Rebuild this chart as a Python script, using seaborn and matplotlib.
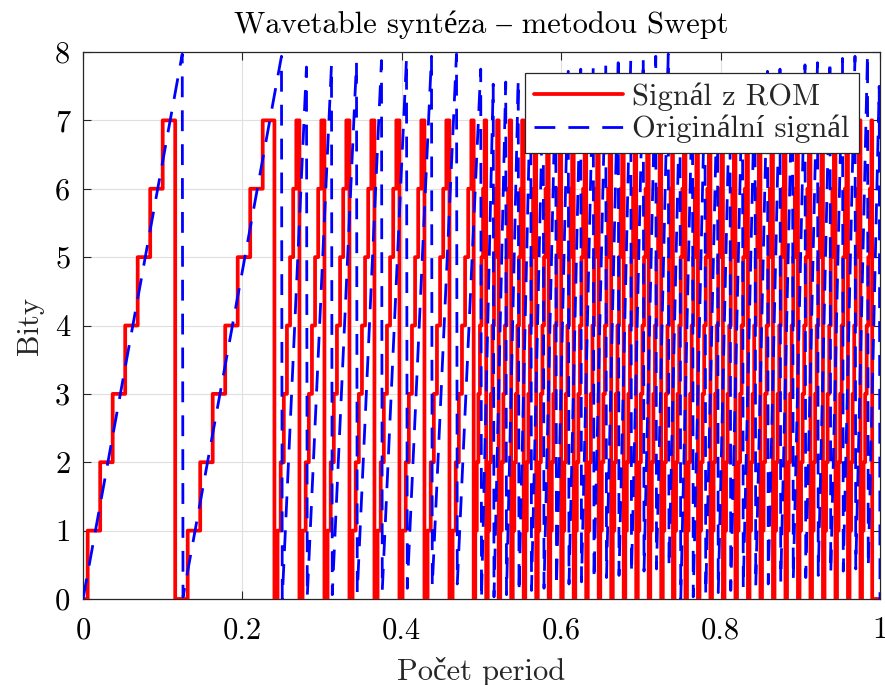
import numpy as np
import pandas as pd
import matplotlib
matplotlib.use("Agg")
import matplotlib.pyplot as plt
import seaborn as sns

# ---- text ----
title = "Wavetable syntéza – metodou Swept"
x_label = "Počet period"
y_label = "Bity"
series_names = ["Signál z ROM", "Originální signál"]

# ---- signal description ----
seg_edges = [0.0, 0.25, 0.5, 1.0]          # where the sweep changes speed
seg_cycles_per_unit = [8, 32, 64]          # sawtooth repetitions per unit in each segment
rom_table = [0, 1, 2, 3, 4, 5, 6, 7]       # 3-bit ROM contents
full_scale = 8                              # amplitude of the original sawtooth
n_samples = 1021                            # time samples over 0..1
rom_delay_samples = 10                      # ROM output leads the original

x_ticks = [0.0, 0.2, 0.4, 0.6, 0.8, 1.0]
x_tick_labels = ["0", "0.2", "0.4", "0.6", "0.8", "1"]
y_ticks = [0, 1, 2, 3, 4, 5, 6, 7, 8]
y_tick_labels = ["0", "1", "2", "3", "4", "5", "6", "7", "8"]

# ---- build the series ----
t = np.linspace(0.0, 1.0, n_samples)
edge_cycles = np.concatenate([[0.0], np.cumsum(np.diff(seg_edges) * np.array(seg_cycles_per_unit))])
phase = np.round(np.interp(t, seg_edges, edge_cycles), 9)
frac = phase - np.floor(phase)
original = full_scale * frac

rom_arr = np.array(rom_table)
idx = np.arange(n_samples) + rom_delay_samples
rom_out = np.zeros(n_samples)
valid = idx < n_samples
rom_idx = np.floor(len(rom_table) * frac[idx[valid]]).astype(int) % len(rom_table)
rom_out[valid] = rom_arr[rom_idx]

df_rom = pd.DataFrame({"t": t, "v": rom_out})
df_orig = pd.DataFrame({"t": t, "v": original})

# ---- style ----
sns.set_theme(style="white")
plt.rcParams["font.family"] = ["cmr10", "Liberation Serif"]
plt.rcParams["mathtext.fontset"] = "cm"
plt.rcParams["axes.unicode_minus"] = False
plt.rcParams["axes.formatter.use_mathtext"] = False

fig = plt.figure(figsize=(8.85, 6.85), dpi=100)
ax = fig.add_axes([83 / 885, 1 - 599 / 685, (880 - 83) / 885, (599 - 52) / 685])

sns.lineplot(data=df_rom, x="t", y="v", ax=ax, color="#ff0000", linewidth=2.7,
             drawstyle="steps-post", estimator=None, sort=False,
             label=series_names[0], zorder=3)
sns.lineplot(data=df_orig, x="t", y="v", ax=ax, color="#0000ff", linewidth=2.0,
             linestyle=(0, (7.5, 4.7)), estimator=None, sort=False,
             label=series_names[1], zorder=4)

ax.set_xlim(0, 1)
ax.set_ylim(0, 8)
ax.set_xticks(x_ticks)
ax.set_xticklabels(x_tick_labels)
ax.set_yticks(y_ticks)
ax.set_yticklabels(y_tick_labels)

fs = 22
ax.set_title(title, fontsize=fs, pad=14, color="#000000")
ax.set_xlabel(x_label, fontsize=fs, labelpad=9, color="#262626")
ax.set_ylabel(y_label, fontsize=fs, labelpad=8, color="#262626")
ax.tick_params(axis="x", which="major", pad=13)
ax.tick_params(axis="y", which="major", pad=9)
ax.tick_params(axis="both", which="major", direction="in", length=6, width=0.8,
               labelsize=fs, colors="#262626", top=True, right=True,
               bottom=True, left=True)
for lab in ax.get_xticklabels() + ax.get_yticklabels():
    lab.set_color("#000000")

ax.grid(True, color="#dfdfdf", linewidth=0.8)
ax.set_axisbelow(True)
for sp in ax.spines.values():
    sp.set_color("#262626")
    sp.set_linewidth(0.9)

leg = ax.legend(loc="upper right", fontsize=fs, frameon=True, fancybox=False,
                edgecolor="#262626", framealpha=1.0, handlelength=2.9,
                handletextpad=0.3, borderpad=0.32, borderaxespad=0.68,
                labelspacing=0.12)
leg.get_frame().set_linewidth(0.9)
leg.set_zorder(10)

fig.savefig("out.png", dpi=100)
